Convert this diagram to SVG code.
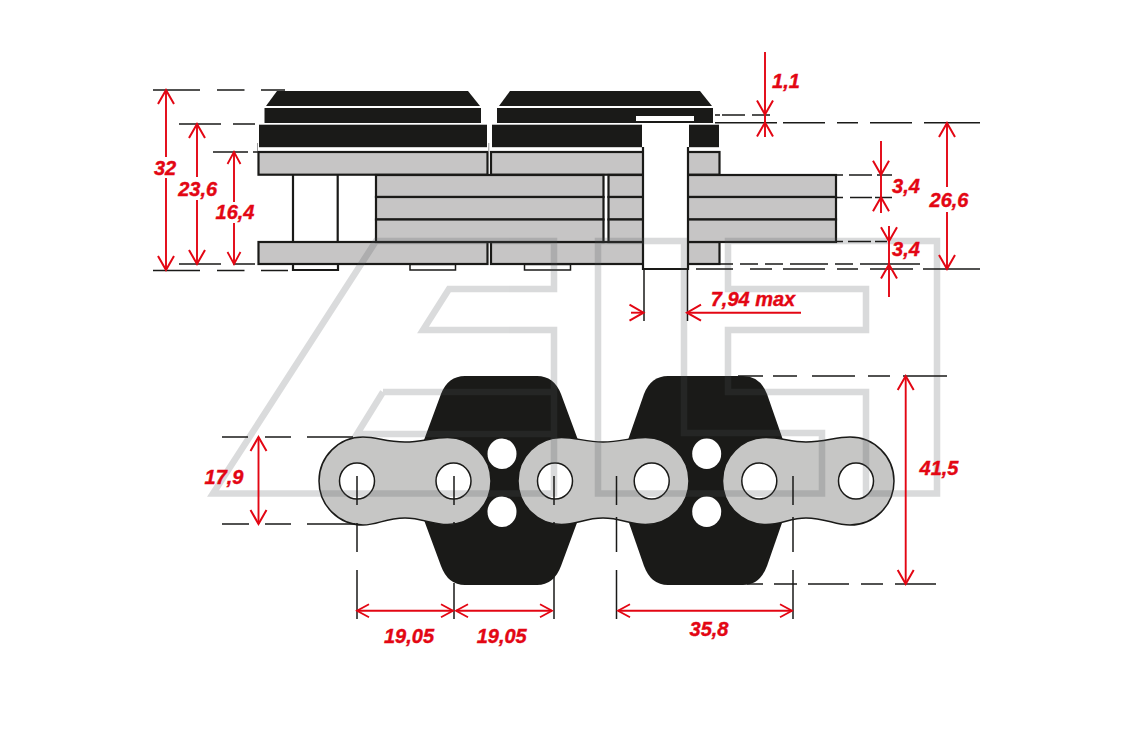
<svg xmlns="http://www.w3.org/2000/svg" width="1146" height="736" viewBox="0 0 1146 736">
<style>
.k{fill:#1a1a18}
.p{fill:#c6c5c5;stroke:#1a1a18;stroke-width:2.200}
.l{fill:#c6c6c5;stroke:#1a1a18;stroke-width:1.500}
.h{fill:#fff;stroke:#1a1a18;stroke-width:1.500}
.w{fill:#fff}
.b{fill:none;stroke:#1a1a18;stroke-width:2.200}
.t{fill:#fff;stroke:#1a1a18;stroke-width:1.500}
.c{fill:none;stroke:#1a1a18;stroke-width:1.500}
.d{fill:none;stroke:#e30613;stroke-width:1.900}
.e{marker-end:url(#arr)}
text{font-family:"Liberation Sans",Arial,sans-serif;font-weight:700;font-style:italic;font-size:20px;fill:#e30613;stroke:#e30613;stroke-width:0.400;text-anchor:middle}
</style>
<defs>
<marker id="arr" markerUnits="userSpaceOnUse" markerWidth="32" markerHeight="32" refX="16" refY="16" orient="auto-start-reverse" viewBox="0 0 32 32" overflow="visible">
<path d="M2,8 L16,16 L2,24" fill="none" stroke="#e30613" stroke-width="2"/>
</marker>
<marker id="arrs" markerUnits="userSpaceOnUse" markerWidth="32" markerHeight="32" refX="16" refY="16" orient="auto-start-reverse" viewBox="0 0 32 32" overflow="visible">
<path d="M4,9.500 L16,16 L4,22.500" fill="none" stroke="#e30613" stroke-width="1.800"/>
</marker>
</defs>
<rect width="1146" height="736" fill="#fff"/>

<g id="top-view">
<g id="plate-left">
<path class="k" d="M266,106 L277,91 H468 L480,106 Z"/>
<rect class="k" x="264.500" y="108" width="216.500" height="15"/>
<rect class="k" x="259" y="124.700" width="228" height="22.500"/>
<rect class="p" x="258.500" y="152" width="229" height="22.700"/>
<rect class="p" x="258.500" y="242" width="229" height="22"/>
</g>
<g id="plate-right">
<path class="k" d="M499,106 L510,91 H700 L712,106 Z"/>
<rect class="k" x="497" y="108" width="216" height="15"/>
<rect class="k" x="492" y="124.700" width="227" height="22.500"/>
<rect class="p" x="491" y="152" width="228.500" height="22.700"/>
<rect class="p" x="491" y="242" width="228.500" height="22"/>
</g>
<path d="M257.500,143 V152 M488.800,143 V152" fill="none" stroke="#999" stroke-width="1"/>
<g id="inner-plates">
<rect class="p" x="376" y="175" width="227.500" height="22"/>
<rect class="p" x="376" y="197" width="227.500" height="22.500"/>
<rect class="p" x="376" y="219.500" width="227.500" height="22.500"/>
<rect class="p" x="608.500" y="175" width="227.500" height="22"/>
<rect class="p" x="608.500" y="197" width="227.500" height="22.500"/>
<rect class="p" x="608.500" y="219.500" width="227.500" height="22.500"/>
</g>
<g id="pin-left">
<path class="b" d="M293,175 V242 M337.700,175 V242"/>
<path class="b" fill="#fff" d="M293,264 V270 H338 V264"/>
</g>
<g id="tabs">
<rect class="t" x="410" y="264.500" width="45.500" height="5.500"/>
<rect class="t" x="524.500" y="264.500" width="46" height="5.500"/>
</g>
<g id="pin-right">
<rect class="w" x="642" y="123" width="47" height="146"/>
<path class="b" d="M643,147 V269 H688 V147"/>
<rect class="w" x="636" y="116" width="58" height="5"/>
</g>
</g>

<g id="bottom-view">
<path id="flight-left" class="k" d="M465,376 H537 Q554,376 561,394 L578,440 V520 L561,566 Q554,585 537,585 H465 Q448,585 441,566 L424,520 V440 L441,394 Q448,376 465,376 Z"/>
<path id="flight-right" class="k" d="M668,376 H743 Q760,376 767,394 L783,440 V520 L767,566 Q760,585 743,585 H668 Q651,585 644,566 L628,520 V440 L644,394 Q651,376 668,376 Z"/>
<g id="holes" class="w">
<ellipse cx="502" cy="453.700" rx="14.500" ry="15.300"/>
<ellipse cx="502" cy="511.700" rx="14.500" ry="15.300"/>
<ellipse cx="706.700" cy="453.700" rx="14.500" ry="15.300"/>
<ellipse cx="706.700" cy="511.700" rx="14.500" ry="15.300"/>
</g>
<g id="link-1">
<path class="l" d="M363,437 C378,437 385,442 405,442 C422,442 432,437.500 447.500,437.500 A43.500,43.500 0 0 1 447.500,524.500 C432,524.500 422,518 405,518 C385,518 378,525 363,525 A44,44 0 0 1 363,437 Z"/>
<ellipse class="h" cx="357" cy="481" rx="17.500" ry="18"/>
<ellipse class="h" cx="453.500" cy="481" rx="17.500" ry="18"/>
</g>
<g id="link-2">
<path class="l" d="M561.500,437.500 C577,437.500 585,442 603,442 C621,442 630,437.500 645.500,437.500 A43.500,43.500 0 0 1 645.500,524.500 C630,524.500 621,518 603,518 C585,518 577,524.500 561.500,524.500 A43.500,43.500 0 0 1 561.500,437.500 Z"/>
<ellipse class="h" cx="555" cy="481" rx="17.500" ry="18"/>
<ellipse class="h" cx="651.700" cy="481" rx="17.500" ry="18"/>
</g>
<g id="link-3">
<path class="l" d="M766,437.500 C782,437.500 790,442 806,442 C825,442 835,437 850,437 A44,44 0 0 1 850,525 C835,525 825,518 806,518 C790,518 782,524.500 766,524.500 A43.500,43.500 0 0 1 766,437.500 Z"/>
<ellipse class="h" cx="759.300" cy="481" rx="17.500" ry="18"/>
<ellipse class="h" cx="856" cy="481" rx="17.500" ry="18"/>
</g>
</g>

<g id="watermark" fill="none" stroke="#505458" stroke-width="6.500" opacity="0.21">
<path d="M213,493.500 L376,241 H554 V289 H449 L423,330 H554 V493.500 Z M383,392 H554 M383,392 L357,434 H554"/>
<path d="M598,241 H684 V433 H822 V493.500 H598 Z"/>
<path d="M728,241 H937 V493.500 H866 V392 H728 V330 H866 V289 H728 Z"/>
</g>

<g id="connectors">
<path class="c" d="M153,90 H200 M217,90 H244.500 M261,90 H285 M179,124 H221 M233,124 H255 M213,152 H248 M253,152 H266 M179,264 H221 M233,264 H255 M153,270.500 H200 M217,270.500 H244.500 M261,270.500 H288"/>
<path class="c" d="M715,115 H720 M722,115 H745 M752,115 H770 M715,122.700 H777 M783,122.700 H825 M837,122.700 H858 M870,122.700 H912 M924,122.700 H980"/>
<path class="c" d="M836,175 H843 M849,175 H872 M877,175 H892 M836,197.500 H843 M850,197.500 H872 M875,197.500 H892 M836,241.500 H843 M848,241.500 H871 M875,241.500 H887"/>
<path class="c" d="M697,264 H733 M740,264 H758 M765,264 H783 M790,264 H828 M835,264 H853 M860,264 H920 M696,269 H733 M750,269 H772 M783,269 H825 M837,269 H858 M870,269 H913 M923,269 H980"/>
<path class="c" d="M644,269 V321 M687.500,269 V321"/>
<path class="c" d="M222,437 H248 M265,437 H291 M307,437 H353 M222,524 H249 M265,524 H291 M307,524 H355"/>
<path class="c" d="M738,376 H763 M773,376 H797 M812,376 H855 M868,376 H890 M903,376 H947 M747,584 H763 M774,584 H797 M808,584 H849 M861,584 H883 M895,584 H936"/>
<path class="c" d="M357,476 V505 M357,523 V552 M357,570 V619 M454,476 V505 M454,522 V524 M454,583 V619 M554,476 V505 M554,522 V524 M554,577 V619 M616.500,476 V505 M616.500,517 V552 M616.500,570 V619 M793,476 V505 M793,517 V552 M793,570 V619"/>

<path class="d" style="marker-start:url(#arr)" d="M166,90 V157"/>
<path class="d" style="marker-end:url(#arr)" d="M166,178 V270"/>
<path class="d" style="marker-start:url(#arr)" d="M197,124 V177"/>
<path class="d" style="marker-end:url(#arr)" d="M197,200 V264"/>
<path class="d" style="marker-start:url(#arrs)" d="M234,152 V202"/>
<path class="d" style="marker-end:url(#arrs)" d="M234,223 V264"/>
<path class="d e" d="M765,52 V114.500"/>
<path class="d e" d="M765,137 V122.500"/>
<path class="d" d="M765,114 V123"/>
<path class="d e" d="M881,141 V174.700"/>
<path class="d e" d="M881,213 V197.200"/>
<path class="d" d="M881,175 V197"/>
<path class="d e" d="M889,226 V241.300"/>
<path class="d e" d="M889,297 V264.500"/>
<path class="d" d="M889,241 V265"/>
<path class="d" style="marker-start:url(#arr)" d="M947,123 V187"/>
<path class="d" style="marker-end:url(#arr)" d="M947,212 V269"/>
<path class="d e" d="M631,312.700 H643.500"/>
<path class="d" style="marker-start:url(#arr)" d="M687,312.700 H801"/>
<path class="d" style="marker-start:url(#arr);marker-end:url(#arr)" d="M258.500,437 V524"/>
<path class="d" style="marker-start:url(#arr);marker-end:url(#arr)" d="M905.700,376 V584"/>
<path class="d" style="marker-start:url(#arrs);marker-end:url(#arrs)" d="M357,610.700 H453"/>
<path class="d" style="marker-start:url(#arrs);marker-end:url(#arrs)" d="M456,610.700 H552"/>
<path class="d" style="marker-start:url(#arrs);marker-end:url(#arrs)" d="M618,610.700 H792"/>
</g>

<g id="labels">
<text x="165" y="174.500">32</text>
<text x="197.700" y="196">23,6</text>
<text x="235" y="219">16,4</text>
<text x="786" y="88">1,1</text>
<text x="906" y="193">3,4</text>
<text x="949" y="206.700">26,6</text>
<text x="906" y="256">3,4</text>
<text x="753" y="306">7,94 max</text>
<text x="224" y="484">17,9</text>
<text x="409" y="643">19,05</text>
<text x="501.700" y="643">19,05</text>
<text x="709" y="636">35,8</text>
<text x="939" y="475">41,5</text>
</g>
</svg>
